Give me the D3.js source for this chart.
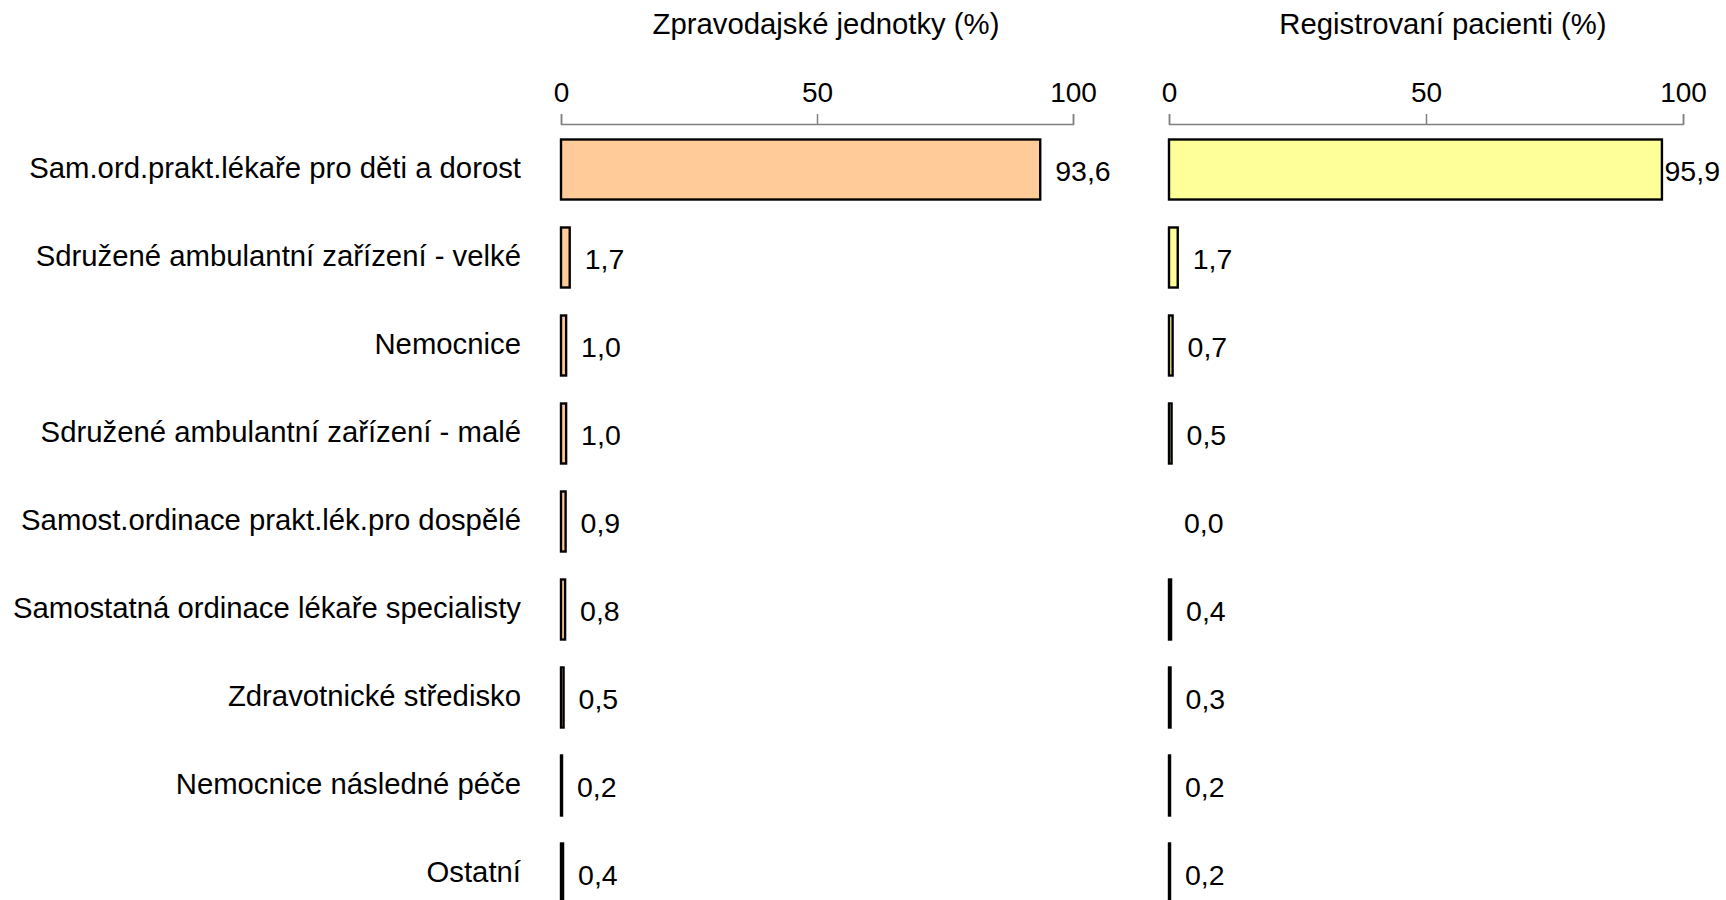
<!DOCTYPE html>
<html lang="cs">
<head>
    <meta charset="utf-8">
    <title>Zpravodajské jednotky a registrovaní pacienti</title>
    <style>
        body { margin: 0; background: #fff; }
        text { font-family: "Liberation Sans", Arial, sans-serif; fill: #000; }
        .axis path, .axis line { stroke: #808080; stroke-width: 1.5; }
        .axis text { font-size: 28px; }
    </style>
</head>
<body>
<script src="https://d3js.org/d3.v7.min.js"></script>
<script>
    var categories = [
        "Sam.ord.prakt.lékaře pro děti a dorost",
        "Sdružené ambulantní zařízení - velké",
        "Nemocnice",
        "Sdružené ambulantní zařízení - malé",
        "Samost.ordinace prakt.lék.pro dospělé",
        "Samostatná ordinace lékaře specialisty",
        "Zdravotnické středisko",
        "Nemocnice následné péče",
        "Ostatní"
    ];
    var jednotky = [93.6, 1.7, 1.0, 1.0, 0.9, 0.8, 0.5, 0.2, 0.4];
    var pacienti = [95.9, 1.7, 0.7, 0.5, 0.0, 0.4, 0.3, 0.2, 0.2];
    var ticks = [0, 50, 100];

    var width = 1726, height = 900;
    var axisY = 124;

    var svg = d3.select("body").append("svg")
        .attr("width", width)
        .attr("height", height);

    var y = d3.scaleBand()
        .domain(categories)
        .range([125.5, 125.5 + 9 * 88])
        .paddingInner(0.318)
        .paddingOuter(0.159);

    var fmt = function(v) { return d3.format(".1f")(v).replace(".", ","); };

    // category labels
    svg.append("g").selectAll("text")
        .data(categories)
        .enter().append("text")
        .attr("x", 521)
        .attr("y", function(d) { return y(d) + y.bandwidth() / 2; })
        .attr("dy", "0.3em")
        .attr("text-anchor", "end")
        .style("font-size", "29.3px")
        .text(function(d) { return d; });

    function panel(values, range, fill, title, titleX) {
        var x = d3.scaleLinear().domain([0, 100]).range(range);
        var g = svg.append("g");

        g.append("text")
            .attr("x", titleX)
            .attr("y", 34)
            .attr("text-anchor", "middle")
            .style("font-size", "29.3px")
            .text(title);

        var ax = g.append("g")
            .attr("class", "axis")
            .attr("transform", "translate(0," + axisY + ")")
            .call(d3.axisTop(x).tickValues(ticks).tickSize(10).tickSizeOuter(10).tickPadding(12));
        ax.selectAll("text").style("font-family", "Liberation Sans, Arial, sans-serif");

        var rows = values.map(function(v, i) { return {cat: categories[i], v: v}; });

        g.selectAll(".bar")
            .data(rows.filter(function(d) { return d.v > 0; }))
            .enter().append("rect")
            .attr("x", x(0))
            .attr("y", function(d) { return y(d.cat); })
            .attr("width", function(d) { return x(d.v) - x(0); })
            .attr("height", y.bandwidth())
            .attr("fill", fill)
            .attr("stroke", "#000")
            .attr("stroke-width", 2.4);

        g.selectAll(".val")
            .data(rows)
            .enter().append("text")
            .attr("y", function(d) { return y(d.cat) + y.bandwidth() / 2; })
            .attr("dy", "0.42em")
            .style("font-size", "28.5px")
            .text(function(d) { return fmt(d.v); })
            .attr("x", function(d) {
                var w = this.getComputedTextLength();
                return Math.min(x(d.v) + 15, width - w - 6);
            });
    }

    panel(jednotky, [561, 1073], "#FFCC99", "Zpravodajské jednotky (%)", 826);
    panel(pacienti, [1169, 1683], "#FFFF99", "Registrovaní pacienti (%)", 1443);
</script>
</body>
</html>
